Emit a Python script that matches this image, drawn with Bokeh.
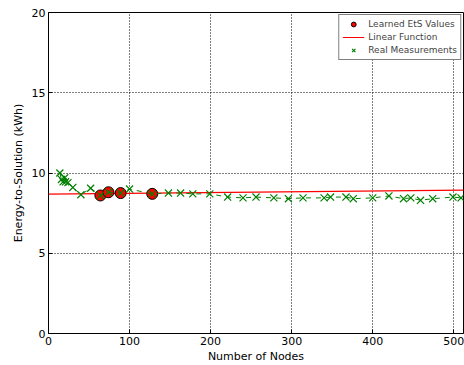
from bokeh.plotting import figure
from bokeh.models import Range1d, Legend, LegendItem, FixedTicker
from bokeh.embed import file_html
from bokeh.resources import INLINE

# Data
learned_x = [64, 74, 89, 128]
learned_y = [8.6, 8.8, 8.75, 8.7]

linear_x = [0, 512]
linear_y = [8.68, 8.93]

real_x = [14, 16, 18, 20, 21, 24, 30, 40, 52, 64, 74, 89, 100, 128, 148, 163, 178,
          199, 221, 240, 256, 278, 296, 314, 340, 348, 367, 376, 400, 420, 438, 447,
          459, 474, 499, 509]
real_y = [10.0, 9.6, 9.45, 9.7, 9.45, 9.4, 9.1, 8.65, 9.05, 8.6, 8.8, 8.75, 9.0, 8.7,
          8.75, 8.75, 8.7, 8.7, 8.5, 8.45, 8.5, 8.45, 8.4, 8.45, 8.45, 8.5, 8.5, 8.4,
          8.45, 8.57, 8.4, 8.45, 8.3, 8.4, 8.5, 8.45]

x_ticks = [0, 100, 200, 300, 400, 500]
y_ticks = [0, 5, 10, 15, 20]

FONT = "DejaVu Sans"

p = figure(width=464, height=365, output_backend="svg", toolbar_location=None,
           x_range=Range1d(0, 512), y_range=Range1d(0, 20))
p.min_border_left = 48
p.min_border_right = 1
p.min_border_top = 12
p.min_border_bottom = 31
p.outline_line_color = "black"
p.outline_line_width = 1
p.background_fill_color = "white"
p.border_fill_color = "white"

for ax in (p.xaxis[0], p.yaxis[0]):
    ax.major_label_text_font = FONT
    ax.major_label_text_font_size = "11px"
    ax.major_label_text_color = "black"
    ax.axis_label_text_font = FONT
    ax.axis_label_text_font_size = "11px"
    ax.axis_label_text_font_style = "normal"
    ax.axis_label_text_color = "black"
    ax.axis_line_color = "black"
    ax.major_tick_in = 4
    ax.major_tick_out = 0
    ax.minor_tick_line_color = None
    ax.major_tick_line_color = "black"

p.xaxis.ticker = FixedTicker(ticks=x_ticks)
p.yaxis.ticker = FixedTicker(ticks=y_ticks)
p.xaxis.axis_label = "Number of Nodes"
p.yaxis.axis_label = "Energy-to-Solution (kWh)"
p.xaxis.axis_label_standoff = 2
p.yaxis.axis_label_standoff = 4
p.xaxis.major_label_standoff = 3
p.yaxis.major_label_standoff = 3

p.xgrid.grid_line_color = "black"
p.ygrid.grid_line_color = "black"
p.xgrid.grid_line_dash = "1 2"
p.ygrid.grid_line_dash = "1 2"

green = "#008000"
r_line = p.line(linear_x, linear_y, line_color="#ff0000", line_width=1.2)
r_learn = p.scatter(learned_x, learned_y, marker="circle", size=11,
                    fill_color="#ff0000", line_color="black", line_width=1)
r_real_line = p.line(real_x, real_y, line_color=green, line_width=1, line_dash="5 5")
r_real = p.scatter(real_x, real_y, marker="x", size=10, line_color=green, line_width=1.2)

legend = Legend(items=[
    LegendItem(label="Learned EtS Values", renderers=[r_learn]),
    LegendItem(label="Linear Function", renderers=[r_line]),
    LegendItem(label="Real Measurements", renderers=[r_real]),
], location="top_right")
legend.label_text_font = FONT
legend.label_text_font_size = "9px"
legend.label_height = 10
legend.glyph_height = 12
legend.glyph_width = 22
legend.spacing = 1
legend.padding = 3
legend.margin = 2
legend.label_standoff = 4
legend.border_line_color = "black"
legend.border_line_width = 1
legend.background_fill_alpha = 1
p.add_layout(legend)

open("out.html", "w").write(file_html(p, INLINE))
